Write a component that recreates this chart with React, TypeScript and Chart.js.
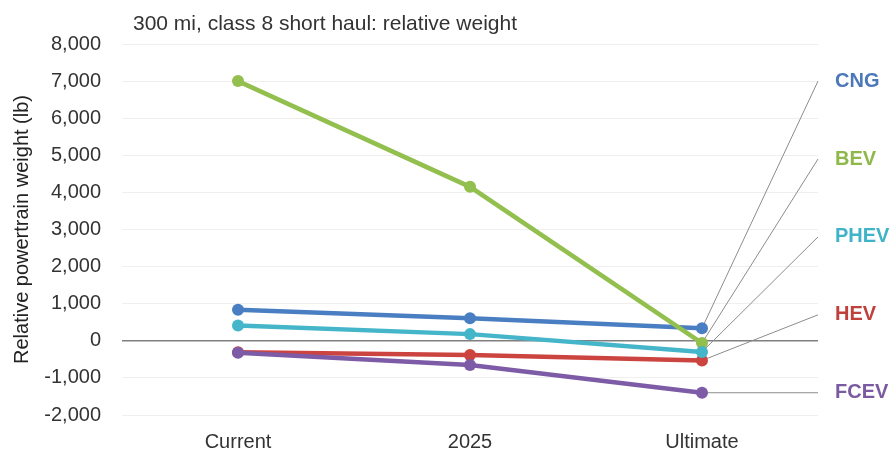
import React, { useEffect, useRef } from "react";
import { Chart, registerables } from "chart.js";

Chart.register(...registerables);

const chartTitle = "300 mi, class 8 short haul: relative weight";
const yAxisTitle = "Relative powertrain weight (lb)";
const categories = ["Current", "2025", "Ultimate"];
const seriesNames = ["CNG", "BEV", "PHEV", "HEV", "FCEV"];
const cngValues = [840, 610, 340];
const bevValues = [7000, 4150, -60];
const phevValues = [410, 180, -300];
const hevValues = [-310, -380, -530];
const fcevValues = [-320, -650, -1400];
const yTickValues = [-2000, -1000, 0, 1000, 2000, 3000, 4000, 5000, 6000, 7000, 8000];
// y-level (lb) where each series' callout label sits, order as seriesNames
const calloutLevels = [7000, 4900, 2800, 700, -1400];

const seriesColors: Record<string, string> = {
  CNG: "#4a7ec2",
  BEV: "#93bf4f",
  PHEV: "#45b5c9",
  HEV: "#cc4440",
  FCEV: "#7d5ba6",
};
const labelColors: Record<string, string> = {
  CNG: "#4a78b8",
  BEV: "#8fb84a",
  PHEV: "#3fb3c7",
  HEV: "#c0403c",
  FCEV: "#7a5aa0",
};
const seriesValues: Record<string, number[]> = {
  CNG: cngValues,
  BEV: bevValues,
  PHEV: phevValues,
  HEV: hevValues,
  FCEV: fcevValues,
};
// drawing order: first dataset is drawn on top
const stackOrder = ["FCEV", "PHEV", "BEV", "CNG", "HEV"];

const FONT = "'Liberation Sans', Arial, sans-serif";

const annotPlugin = {
  id: "annot",
  beforeDatasetsDraw(chart: any) {
    const { ctx, chartArea, scales } = chart;
    const x = scales.x;
    const y = scales.y;
    ctx.save();
    ctx.strokeStyle = "#8c8c8c";
    ctx.lineWidth = 1;
    seriesNames.forEach((name, i) => {
      const vals = seriesValues[name];
      const last = vals.length - 1;
      const px = x.getPixelForValue(last);
      const py = y.getPixelForValue(vals[last]);
      const ly = y.getPixelForValue(calloutLevels[i]);
      ctx.beginPath();
      ctx.moveTo(px, py);
      ctx.lineTo(chartArea.right, ly);
      ctx.stroke();
    });
    ctx.restore();
  },
  afterDraw(chart: any) {
    const { ctx, chartArea, scales } = chart;
    const y = scales.y;
    ctx.save();
    ctx.fillStyle = "#333333";
    ctx.font = `21px ${FONT}`;
    ctx.textAlign = "left";
    ctx.textBaseline = "alphabetic";
    ctx.fillText(chartTitle, chartArea.left + 11, 30);
    ctx.font = `bold 20px ${FONT}`;
    ctx.textBaseline = "middle";
    seriesNames.forEach((name, i) => {
      ctx.fillStyle = labelColors[name];
      ctx.fillText(name, chartArea.right + 17, y.getPixelForValue(calloutLevels[i]));
    });
    ctx.restore();
  },
};

export default function App() {
  const ref = useRef<HTMLCanvasElement | null>(null);
  useEffect(() => {
    if (!ref.current) return;
    const chart = new Chart(ref.current, {
      type: "line",
      data: {
        labels: categories,
        datasets: stackOrder.map((name) => ({
          label: name,
          data: seriesValues[name],
          borderColor: seriesColors[name],
          backgroundColor: seriesColors[name],
          pointBackgroundColor: seriesColors[name],
          pointBorderColor: seriesColors[name],
          borderWidth: 4.5,
          pointRadius: 6,
          pointBorderWidth: 0,
          tension: 0,
          fill: false,
        })),
      },
      options: {
        responsive: false,
        animation: false,
        devicePixelRatio: 1,
        layout: { padding: { left: 0, top: 44, right: 75, bottom: 0 } },
        plugins: {
          legend: { display: false },
          tooltip: { enabled: false },
          title: { display: false },
        },
        scales: {
          x: {
            type: "category",
            offset: true,
            grid: { display: false },
            border: { display: false },
            ticks: {
              color: "#333333",
              font: { family: FONT, size: 20 },
              padding: 7,
              maxRotation: 0,
            },
            afterFit(scale: any) {
              scale.height = 36;
            },
          },
          y: {
            type: "linear",
            min: -2000,
            max: 8000,
            afterBuildTicks(scale: any) {
              scale.ticks = yTickValues.map((v) => ({ value: v }));
            },
            afterFit(scale: any) {
              scale.width = 122;
            },
            grid: {
              drawTicks: false,
              color: (c: any) => (c.tick && c.tick.value === 0 ? "#7f7f7f" : "#efefef"),
              lineWidth: (c: any) => (c.tick && c.tick.value === 0 ? 1.5 : 1),
            },
            border: { display: false },
            ticks: {
              color: "#333333",
              font: { family: FONT, size: 20 },
              padding: 21,
              callback: (v: any) => Number(v).toLocaleString("en-US"),
            },
            title: {
              display: true,
              text: yAxisTitle,
              color: "#222222",
              font: { family: FONT, size: 20 },
              padding: { top: 10, bottom: 0 },
            },
          },
        },
      },
      plugins: [annotPlugin],
    });
    return () => chart.destroy();
  }, []);
  return (
    <div style={{ position: "fixed", left: 0, top: 0, width: 893, height: 451, background: "#ffffff" }}>
      <canvas ref={ref} width={893} height={451} style={{ display: "block" }} />
    </div>
  );
}
